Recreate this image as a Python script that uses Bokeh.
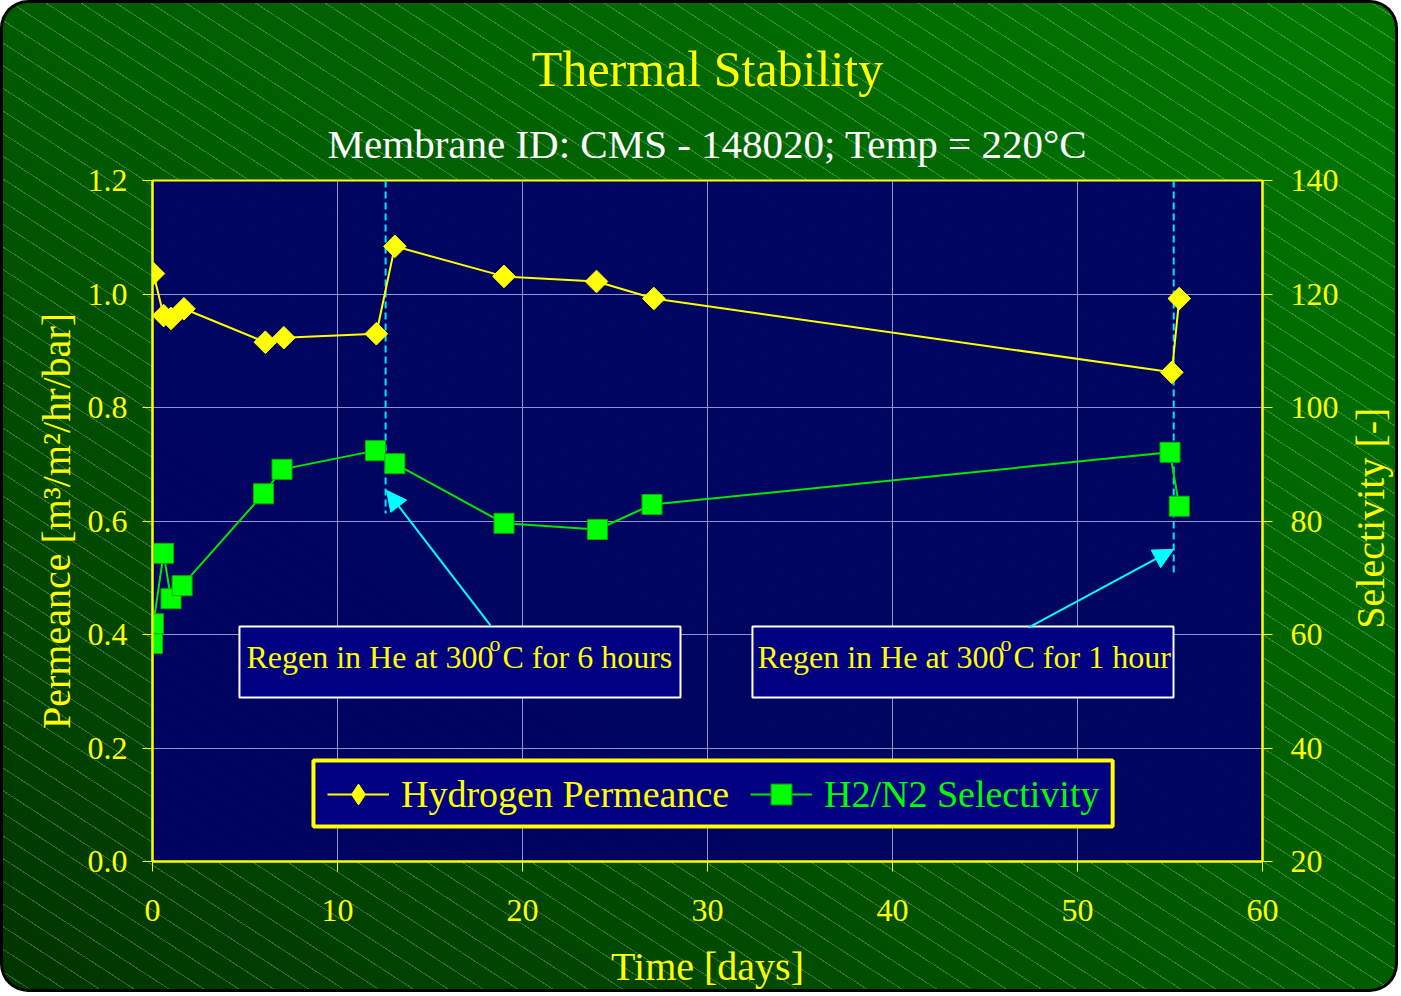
import math
from bokeh.plotting import figure
from bokeh.models import (Range1d, LinearAxis, FixedTicker, NumeralTickFormatter, Label, Title,
                          BoxAnnotation, Arrow, NormalHead, Legend, LegendItem)
from bokeh.embed import file_html
from bokeh.resources import INLINE

# ---------------- data ----------------
days_perm = [0.05, 0.6, 1.0, 1.7, 6.1, 7.1, 12.1, 13.1, 19.0, 24.0, 27.1, 55.1, 55.5]
permeance = [1.036, 0.962, 0.957, 0.974, 0.915, 0.923, 0.930, 1.084, 1.031, 1.022, 0.992, 0.862, 0.992]

days_sel = [0.0, 0.05, 0.6, 1.0, 1.6, 6.0, 7.0, 12.05, 13.1, 19.0, 24.05, 27.0, 55.0, 55.5]
selectivity = [58.4, 61.9, 74.3, 66.3, 68.6, 84.8, 89.1, 92.4, 90.1, 79.6, 78.5, 82.9, 92.1, 82.6]

regen_days = [12.6, 55.2]
regen_top = [1.2, 1.2]
regen_bottom = [0.613, 0.502]

x_ticks = [0, 10, 20, 30, 40, 50, 60]
y_ticks = [0.0, 0.2, 0.4, 0.6, 0.8, 1.0, 1.2]
sel_ticks = [20, 40, 60, 80, 100, 120, 140]

title_text = "Thermal Stability"
subtitle_text = "Membrane ID: CMS - 148020; Temp = 220°C"
right_label = "Selectivity [-]"
note_texts = [("Regen in He at 300", "C for 6 hours"), ("Regen in He at 300", "C for 1 hour")]

# annotation placement (data units)
note_boxes = [(4.70, 28.54), (32.43, 55.19)]
note_box_y = (0.289, 0.414)
note_text_x = [5.08, 32.70]
arrows = [(18.27, 0.416, 12.65, 0.654), (47.35, 0.412, 55.19, 0.550)]

FONT = "Liberation Serif"
YEL = "#ffff00"
GRN = "#00ff00"
NAVY = "#000080"

p = figure(width=1398, height=992, x_range=Range1d(0, 60), y_range=Range1d(0, 1.2),
           output_backend="svg", toolbar_location=None, title=None,
           min_border_left=152, min_border_right=136, min_border_top=180, min_border_bottom=131)

p.styles = {
    "background-image": ("repeating-linear-gradient(33deg, rgba(255,255,255,0) 0px, rgba(255,255,255,0) 18px, "
                         "rgba(200,255,200,0.25) 18px, rgba(200,255,200,0.25) 19px), "
                         "linear-gradient(to top right, #003400, #005c00 50%, #007800)"),
    "border-radius": "28px",
    "box-shadow": "inset 0 0 0 3px #000000",
}
p.border_fill_alpha = 0
p.background_fill_color = "#000066"
p.background_fill_alpha = 0.94
p.outline_line_color = YEL
p.outline_line_width = 2

p.extra_y_ranges = {"sel": Range1d(20, 140)}

# grids
for g in (p.xgrid, p.ygrid):
    g.grid_line_color = "#8a96d6"
    g.grid_line_width = 1
p.xgrid.ticker = FixedTicker(ticks=x_ticks)
p.ygrid.ticker = FixedTicker(ticks=y_ticks)

def style_axis(ax):
    ax.axis_line_color = YEL
    ax.axis_line_width = 2
    ax.major_tick_line_color = YEL
    ax.major_tick_out = 10
    ax.major_tick_in = 0
    ax.minor_tick_out = 0
    ax.minor_tick_in = 0
    ax.major_label_text_color = YEL
    ax.major_label_text_font = FONT
    ax.major_label_text_font_size = "32px"
    ax.axis_label_text_color = YEL
    ax.axis_label_text_font = FONT
    ax.axis_label_text_font_size = "40px"
    ax.axis_label_text_font_style = "normal"

xa = p.xaxis[0]
style_axis(xa)
xa.ticker = FixedTicker(ticks=x_ticks)
xa.axis_label = "Time [days]"
xa.major_label_standoff = 28
xa.axis_label_standoff = 20

ya = p.yaxis[0]
style_axis(ya)
ya.ticker = FixedTicker(ticks=y_ticks)
ya.formatter = NumeralTickFormatter(format="0.0")
ya.axis_label = "Permeance [m³/m²/hr/bar]"
ya.major_label_standoff = 15
ya.axis_label_standoff = 6

ra = LinearAxis(y_range_name="sel", ticker=FixedTicker(ticks=sel_ticks))
style_axis(ra)
ra.major_label_standoff = 18
p.add_layout(ra, "right")

# right-hand axis title, placed in the right panel (rotated to read upward)
p.add_layout(Label(x=65.85, y=80.5, y_range_name="sel", text=right_label, angle=math.pi / 2,
                   text_font=FONT, text_font_size="40px", text_color=YEL,
                   text_align="center", text_baseline="middle"), "right")

# regeneration markers
p.segment(x0=regen_days, y0=regen_top, x1=regen_days, y1=regen_bottom,
          line_color="#00e5ff", line_width=2, line_dash="7 4")

# series
perm_line = p.line(days_perm, permeance, line_color=YEL, line_width=2)
perm_key = p.scatter(days_perm, permeance, marker="diamond", size=16, fill_color=YEL, line_color=YEL)
perm_pts = p.scatter(days_perm, permeance, marker="square", angle=math.pi / 4, size=16,
                     fill_color=YEL, line_color=YEL)
sel_line = p.line(days_sel, selectivity, line_color="#00e800", line_width=2, y_range_name="sel")
sel_pts = p.scatter(days_sel, selectivity, marker="square", size=20, fill_color=GRN,
                    line_color="#00b000", line_width=1, y_range_name="sel")

# annotation boxes & texts
for (l, r), tx, (t1, t2) in zip(note_boxes, note_text_x, note_texts):
    p.add_layout(BoxAnnotation(left=l, right=r, bottom=note_box_y[0], top=note_box_y[1],
                               fill_color=NAVY, fill_alpha=1, line_color="#ffffff",
                               line_alpha=1, line_width=2))
    p.add_layout(Label(x=tx, y=0.3596, text=t1, text_font=FONT, text_font_size="32px",
                       text_color=YEL, text_baseline="alphabetic", text_align="left"))
    p.add_layout(Label(x=tx + 13.14, y=0.3841, text="o", text_font=FONT, text_font_size="22px",
                       text_color=YEL, text_baseline="alphabetic", text_align="left"))
    p.add_layout(Label(x=tx + 13.84, y=0.3596, text=t2, text_font=FONT, text_font_size="32px",
                       text_color=YEL, text_baseline="alphabetic", text_align="left"))

for xs, ys, xe, ye in arrows:
    p.add_layout(Arrow(end=NormalHead(size=20, fill_color="#00ffff", line_color="#00ffff"),
                       x_start=xs, y_start=ys, x_end=xe, y_end=ye,
                       line_color="#00ffff", line_width=2))

# legend frame
p.add_layout(BoxAnnotation(left=8.70, right=51.90, bottom=0.0617, top=0.178,
                           fill_color=NAVY, fill_alpha=1, line_color=YEL, line_alpha=1, line_width=4))

common = dict(orientation="horizontal", glyph_width=62, glyph_height=52,
              label_text_font=FONT, label_text_font_size="38px",
              background_fill_alpha=0, border_line_alpha=0, padding=0, margin=0,
              label_standoff=12, label_height=40)
leg1 = Legend(items=[LegendItem(label="Hydrogen Permeance", renderers=[perm_line, perm_key])],
              location=(175, 41), label_text_color=YEL, **common)
leg2 = Legend(items=[LegendItem(label="H2/N2 Selectivity", renderers=[sel_line, sel_pts])],
              location=(598, 41), label_text_color=GRN, **common)
p.add_layout(leg1)
p.add_layout(leg2)

# titles
p.add_layout(Title(text=subtitle_text, text_font=FONT, text_font_size="41px", text_color="#ffffff",
                   text_font_style="normal", align="center", standoff=27), "above")
p.add_layout(Title(text=title_text, text_font=FONT, text_font_size="50px", text_color=YEL,
                   text_font_style="normal", align="center", standoff=17), "above")

open("out.html", "w").write(file_html(p, INLINE))
